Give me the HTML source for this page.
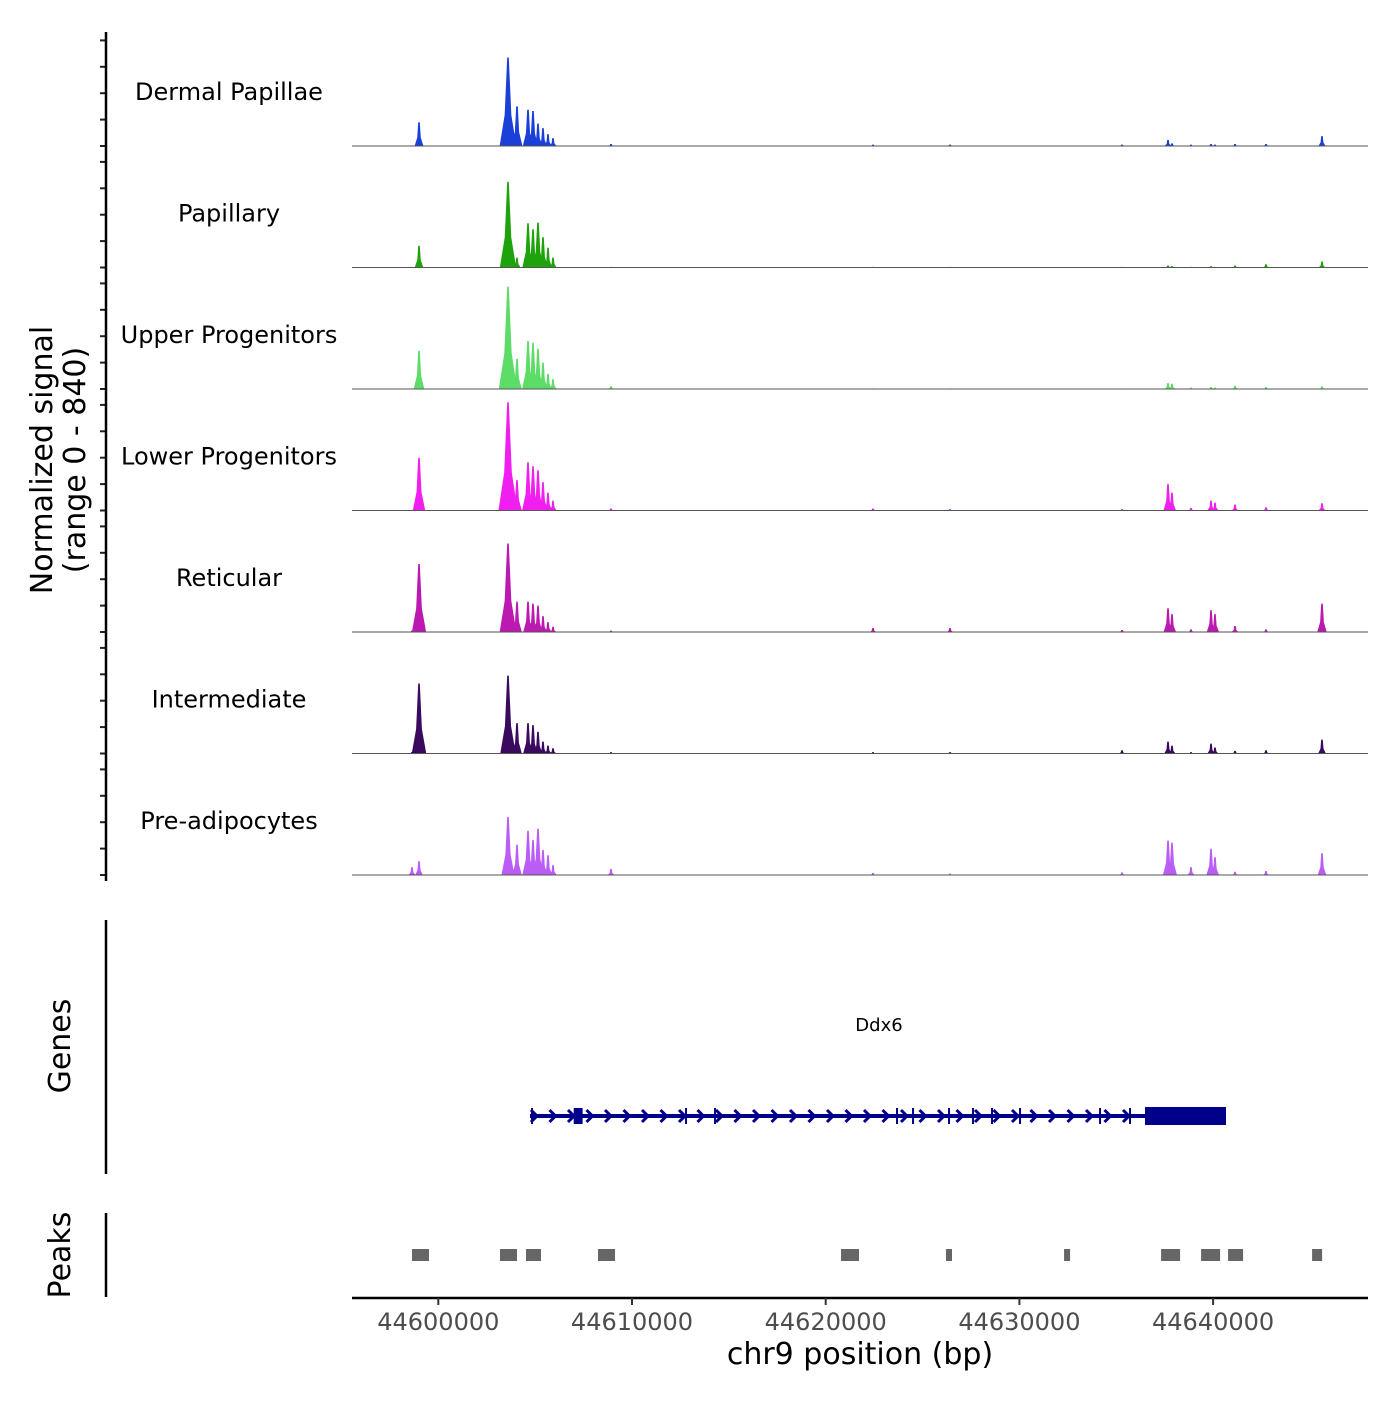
<!DOCTYPE html>
<html><head><meta charset="utf-8"><style>
body{margin:0;background:#fff}
svg text{font-family:"DejaVu Sans","Liberation Sans",sans-serif}
</style></head><body>
<svg id="chart" width="1400" height="1400" viewBox="0 0 1400 1400" xmlns="http://www.w3.org/2000/svg">
<g id="tracks"></g>
<g id="yaxis"></g>
<g id="genes"></g>
<g id="peaks"></g>
<g id="xaxis"></g>
<text transform="translate(52,460) rotate(-90)" text-anchor="middle" font-size="30">Normalized signal</text>
<text transform="translate(85,460) rotate(-90)" text-anchor="middle" font-size="30">(range 0 - 840)</text>
<text transform="translate(70,1046) rotate(-90)" text-anchor="middle" font-size="30">Genes</text>
<text transform="translate(70,1255) rotate(-90)" text-anchor="middle" font-size="30">Peaks</text>
<text x="860" y="1364" text-anchor="middle" font-size="30">chr9 position (bp)</text>
<text x="879" y="1031" text-anchor="middle" font-size="18">Ddx6</text>
</svg>
<script>
const trackNames=["Dermal Papillae","Papillary","Upper Progenitors","Lower Progenitors","Reticular","Intermediate","Pre-adipocytes"];
const trackColors=["#1a40d8","#1fa30d","#5edc68","#f01ff0","#bb19b0","#3a0a5e","#bb5cf5"];
const peakPositions=[44598642,44599004,44603598,44604063,44604631,44604889,44605147,44605405,44605663,44605922,44608916,44622442,44626418,44635297,44637672,44637878,44638859,44639892,44640098,44641131,44642731,44645622];
const dermal=[5,180,670,300,275,265,170,135,90,60,15,10,10,10,45,20,10,15,10,15,15,75];
const papillary=[5,165,650,75,335,290,340,230,150,75,5,5,5,5,15,10,5,10,5,15,25,45];
const upper=[5,290,775,230,365,350,305,200,115,75,20,5,5,5,45,40,10,15,10,25,15,20];
const lower=[5,400,820,230,365,335,305,215,135,75,15,15,10,10,200,135,20,75,60,45,25,55];
const reticular=[10,515,670,230,230,215,200,120,75,40,10,30,30,15,180,135,20,165,135,45,20,215];
const intermediate=[10,530,590,230,230,215,165,90,60,40,10,10,10,25,90,60,10,75,45,20,25,105];
const preadipo=[60,105,440,230,335,265,350,190,150,75,45,15,10,20,260,245,60,200,135,25,30,165];
const series=[dermal,papillary,upper,lower,reticular,intermediate,preadipo];
const yTicks=[0,200,400,600,800];
const xTicks=[44600000,44610000,44620000,44630000,44640000];
const peakStarts=[44598642,44603185,44604528,44608245,44620791,44626211,44632306,44637315,44639380,44640774,44645111];
const peakEnds=[44599520,44604063,44605302,44609123,44621720,44626521,44632616,44638296,44640361,44641548,44645627];
const geneStart=44604734, geneEnd=44640666, thickStart=44636484, utr5Start=44606990, utr5End=44607450;
const exonTicks=[44604838,44612789,44614286,44623683,44624509,44626367,44627606,44628587,44630033,44634163,44635712];

const NS="http://www.w3.org/2000/svg";
function mk(t,a,p){const e=document.createElementNS(NS,t);for(const k in a)e.setAttribute(k,a[k]);p.appendChild(e);return e;}
const x=bp=>438.3+(bp-44600000)*0.01937;
const base0=146, trackStep=121.5, pxPerUnit=105.6/800;
const y=(v,i)=>base0+i*trackStep-v*pxPerUnit;
const gT=document.getElementById('tracks'), gY=document.getElementById('yaxis');
series.forEach((s,i)=>{
  const g=mk('g',{},gT);
  
  
  const lab=mk('text',{x:229,y:base0+i*trackStep-46,'text-anchor':'middle','font-size':24},g);
  lab.textContent=trackNames[i];
  
  
  const b=y(0,i);
  s.forEach((v,j)=>{
    const cx=x(peakPositions[j]);const hw=3+v*0.008;
    const p=mk('polygon',{points:`${cx-hw},${b} ${cx-hw*0.4},${b-(b-y(v,i))*0.35} ${cx-0.8},${y(v,i)} ${cx+0.8},${y(v,i)} ${cx+hw*0.4},${b-(b-y(v,i))*0.35} ${cx+hw},${b}`,fill:trackColors[i]},g);
    
    
  });
  const bl=mk('line',{x1:352,x2:1368,y1:b,y2:b,stroke:'#555','stroke-width':1},g);
  
  
  yTicks.forEach(t=>{const tk=mk('line',{x1:100,x2:106,y1:y(t,i),y2:y(t,i),stroke:'#222','stroke-width':2},gY);
    
    });
});
mk('line',{x1:106,x2:106,y1:32,y2:881,stroke:'#000','stroke-width':2.5},gY);
// genes
const gG=document.getElementById('genes');
mk('line',{x1:106,x2:106,y1:920,y2:1174,stroke:'#000','stroke-width':2.5},gG);
const gy=1116,col='#00008b';
const gl=mk('line',{x1:x(geneStart),x2:x(geneEnd),y1:gy,y2:gy,stroke:col,'stroke-width':4},gG);


mk('rect',{x:x(thickStart),y:gy-9,width:x(geneEnd)-x(thickStart),height:18,fill:col},gG);
mk('rect',{x:x(utr5Start),y:gy-8,width:x(utr5End)-x(utr5Start),height:16,fill:col},gG);
for(let cx=x(geneStart)+4;cx<x(thickStart)-4;cx+=18.5){mk('polyline',{points:`${cx-3},${gy-6} ${cx+3},${gy} ${cx-3},${gy+6}`,fill:'none',stroke:col,'stroke-width':3},gG);}
exonTicks.forEach(b=>mk('line',{x1:x(b),x2:x(b),y1:gy-8,y2:gy+8,stroke:col,'stroke-width':2},gG));
// peaks
const gP=document.getElementById('peaks');
mk('line',{x1:106,x2:106,y1:1213,y2:1297,stroke:'#000','stroke-width':2.5},gP);
peakStarts.forEach((s,i)=>{const r=mk('rect',{x:x(s),y:1249,width:Math.max(5,x(peakEnds[i])-x(s)),height:12,fill:'#666'},gP);
  
  });
// x axis
const gX=document.getElementById('xaxis');
mk('line',{x1:352,x2:1368,y1:1298,y2:1298,stroke:'#000','stroke-width':2.5},gX);
xTicks.forEach(t=>{mk('line',{x1:x(t),x2:x(t),y1:1298,y2:1305,stroke:'#333','stroke-width':2},gX);
  const tl=mk('text',{x:x(t),y:1330,'text-anchor':'middle','font-size':24,fill:'#4d4d4d'},gX);tl.textContent=t;
  
  });
</script>
</body></html>
